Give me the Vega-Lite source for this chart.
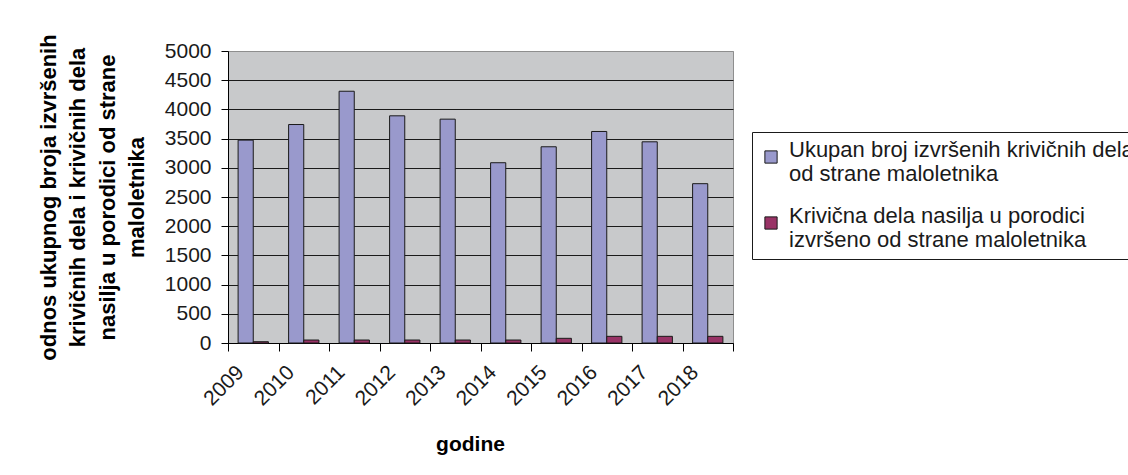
{
  "$schema": "https://vega.github.io/schema/vega-lite/v6.json",
  "width": 505,
  "height": 292,
  "autosize": "none",
  "padding": {"left": 228, "top": 51, "right": 395, "bottom": 132},
  "background": "white",
  "config": {
    "font": "Liberation Sans",
    "view": {"fill": "#C8C9CB", "stroke": "#8E8E8E", "strokeWidth": 1}
  },
  "data": {
    "values": [
      {"year": "2009", "series": "Ukupan broj izvršenih krivičnih dela|od strane maloletnika", "value": 3474},
      {"year": "2010", "series": "Ukupan broj izvršenih krivičnih dela|od strane maloletnika", "value": 3741},
      {"year": "2011", "series": "Ukupan broj izvršenih krivičnih dela|od strane maloletnika", "value": 4311},
      {"year": "2012", "series": "Ukupan broj izvršenih krivičnih dela|od strane maloletnika", "value": 3890},
      {"year": "2013", "series": "Ukupan broj izvršenih krivičnih dela|od strane maloletnika", "value": 3833},
      {"year": "2014", "series": "Ukupan broj izvršenih krivičnih dela|od strane maloletnika", "value": 3087},
      {"year": "2015", "series": "Ukupan broj izvršenih krivičnih dela|od strane maloletnika", "value": 3360},
      {"year": "2016", "series": "Ukupan broj izvršenih krivičnih dela|od strane maloletnika", "value": 3622},
      {"year": "2017", "series": "Ukupan broj izvršenih krivičnih dela|od strane maloletnika", "value": 3445},
      {"year": "2018", "series": "Ukupan broj izvršenih krivičnih dela|od strane maloletnika", "value": 2728},
      {"year": "2009", "series": "Krivična dela nasilja u porodici|izvršeno od strane maloletnika", "value": 22},
      {"year": "2010", "series": "Krivična dela nasilja u porodici|izvršeno od strane maloletnika", "value": 51},
      {"year": "2011", "series": "Krivična dela nasilja u porodici|izvršeno od strane maloletnika", "value": 51},
      {"year": "2012", "series": "Krivična dela nasilja u porodici|izvršeno od strane maloletnika", "value": 51},
      {"year": "2013", "series": "Krivična dela nasilja u porodici|izvršeno od strane maloletnika", "value": 51},
      {"year": "2014", "series": "Krivična dela nasilja u porodici|izvršeno od strane maloletnika", "value": 51},
      {"year": "2015", "series": "Krivična dela nasilja u porodici|izvršeno od strane maloletnika", "value": 80},
      {"year": "2016", "series": "Krivična dela nasilja u porodici|izvršeno od strane maloletnika", "value": 114},
      {"year": "2017", "series": "Krivična dela nasilja u porodici|izvršeno od strane maloletnika", "value": 114},
      {"year": "2018", "series": "Krivična dela nasilja u porodici|izvršeno od strane maloletnika", "value": 114}
    ]
  },
  "mark": {"type": "bar", "stroke": "#1a1a1a", "strokeWidth": 1},
  "encoding": {
    "x": {
      "field": "year",
      "type": "nominal",
      "scale": {"paddingInner": 0, "paddingOuter": 0},
      "axis": {
        "title": "godine",
        "titleFontSize": 21,
        "titleFontWeight": "bold",
        "titleColor": "#000000",
        "titleX": 242,
        "titleY": 107,
        "titleBaseline": "alphabetic",
        "titleAlign": "center",
        "labelAngle": -45,
        "labelAlign": "right",
        "labelBaseline": "middle",
        "labelFontSize": 21,
        "labelColor": "#1a1a1a",
        "labelPadding": 18,
        "labelOffset": -13,
        "tickSize": 8,
        "tickBand": "extent",
        "tickColor": "#000000",
        "domainColor": "#000000",
        "grid": false
      }
    },
    "xOffset": {
      "field": "series",
      "type": "nominal",
      "sort": ["Ukupan broj izvršenih krivičnih dela|od strane maloletnika", "Krivična dela nasilja u porodici|izvršeno od strane maloletnika"],
      "scale": {"paddingInner": 0, "paddingOuter": 0.667}
    },
    "y": {
      "field": "value",
      "type": "quantitative",
      "scale": {"domain": [0, 5000], "nice": false},
      "axis": {
        "values": [0, 500, 1000, 1500, 2000, 2500, 3000, 3500, 4000, 4500, 5000],
        "title": ["odnos ukupnog broja izvršenih", "krivičnih dela i krivičnih dela", "nasilja u porodici od strane", "maloletnika"],
        "titleFontSize": 22,
        "titleFontWeight": "bold",
        "titleColor": "#000000",
        "titleLineHeight": 29.5,
        "titleAngle": -90,
        "titleX": -180,
        "titleY": 146,
        "titleAlign": "center",
        "titleBaseline": "middle",
        "labelFontSize": 21,
        "labelColor": "#1a1a1a",
        "labelPadding": 10,
        "tickSize": 7,
        "tickColor": "#000000",
        "domainColor": "#000000",
        "format": "d",
        "grid": true,
        "gridColor": {"condition": {"test": "datum.value == 5000", "value": "#8E8E8E"}, "value": "#1a1a1a"},
        "gridWidth": 1
      }
    },
    "color": {
      "field": "series",
      "type": "nominal",
      "scale": {
        "domain": ["Ukupan broj izvršenih krivičnih dela|od strane maloletnika", "Krivična dela nasilja u porodici|izvršeno od strane maloletnika"],
        "range": ["#9999CC", "#993366"]
      },
      "legend": {
        "title": " ",
        "titleFontSize": 1,
        "titlePadding": 5,
        "orient": "none",
        "legendX": 524,
        "legendY": 81,
        "strokeColor": "#1a1a1a",
        "fillColor": "#ffffff",
        "padding": 8,
        "symbolType": "square",
        "symbolSize": 150,
        "symbolStrokeColor": "#1a1a1a",
        "symbolStrokeWidth": 1,
        "labelExpr": "split(datum.label, '|')",
        "labelFontSize": 22,
        "labelColor": "#1a1a1a",
        "labelLimit": 0,
        "labelBaseline": "alphabetic",
        "labelLineHeight": 29.5,
        "labelOffset": 7,
        "rowPadding": 20
      }
    }
  }
}
